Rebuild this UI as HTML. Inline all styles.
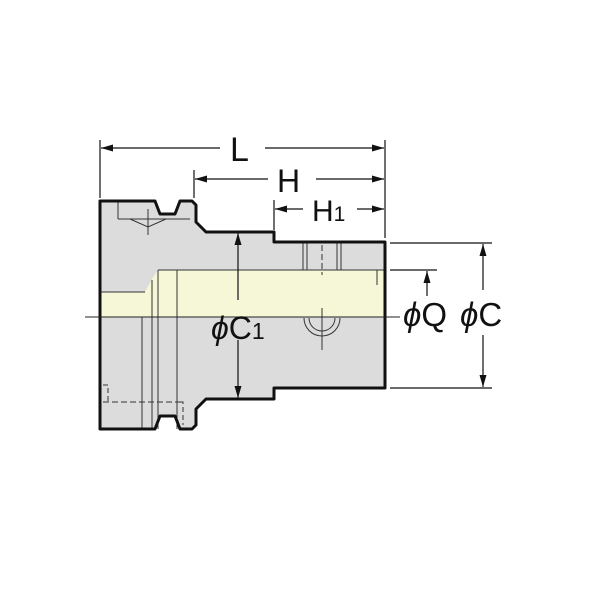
<!DOCTYPE html>
<html><head><meta charset="utf-8"><style>
html,body{margin:0;padding:0;background:#fff;width:600px;height:600px;overflow:hidden}
svg{display:block}
text{font-family:"Liberation Sans",sans-serif;fill:#111}
</style></head><body>
<svg width="600" height="600" viewBox="0 0 600 600" xmlns="http://www.w3.org/2000/svg">
<defs>
<marker id="a" viewBox="0 0 12 7" refX="12" refY="3.5" markerWidth="12" markerHeight="7" orient="auto-start-reverse" markerUnits="userSpaceOnUse"><path d="M0,0 L12,3.5 L0,7 z" fill="#111"/></marker>
</defs>
<path d="M100,201 L155,201 L160,214 L175,214 L180,201 L192,201 L196,205 L196,222 L206,232 L274,232 L274,242 L385,242 L385,388 L274,388 L274,399 L206,399 L196,409 L196,425 L192,429 L180,429 L175,416 L160,416 L155,429 L100,429 Z" fill="#dcdcdc"/>
<path d="M100,292 L145,292 L152,279 L158,270 L385,270 L385,317 L100,317 Z" fill="#f6f7d6"/>
<g stroke="#333" stroke-width="1" fill="none">
<line x1="142" y1="317" x2="142" y2="429"/>
<line x1="152" y1="280" x2="152" y2="429"/>
<line x1="158" y1="270" x2="158" y2="429"/>
<line x1="177" y1="270" x2="177" y2="429"/>
<line x1="100" y1="292" x2="145" y2="292"/>
<line x1="158" y1="270" x2="385" y2="270"/>
<line x1="118" y1="201" x2="118" y2="219"/><line x1="118" y1="219" x2="190" y2="219"/>
<path d="M130,219 L148,227 L166,219"/>
<line x1="148" y1="209" x2="148" y2="235"/>
<line x1="303" y1="242" x2="303" y2="270"/><line x1="307" y1="242" x2="307" y2="270"/>
<line x1="337" y1="242" x2="337" y2="270"/><line x1="341" y1="242" x2="341" y2="270"/>
<line x1="322" y1="245" x2="322" y2="275" stroke-dasharray="6,3"/>
<path d="M304,318 A18,18 0 0 0 340,318"/><path d="M309,318 A13,13 0 0 0 335,318"/>
<line x1="322" y1="308" x2="322" y2="350"/>
<line x1="377" y1="270" x2="377" y2="285"/>
<path d="M103,385 L108,385 L108,402" stroke-dasharray="5,3"/>
<line x1="103" y1="402" x2="180" y2="402" stroke-dasharray="6,3"/>
<path d="M180,402 L183,402 L183,425" stroke-dasharray="5,3"/>
</g>
<path d="M100,201 L155,201 L160,214 L175,214 L180,201 L192,201 L196,205 L196,222 L206,232 L274,232 L274,242 L385,242 L385,388 L274,388 L274,399 L206,399 L196,409 L196,425 L192,429 L180,429 L175,416 L160,416 L155,429 L100,429 Z" fill="none" stroke="#111" stroke-width="3" stroke-linejoin="round"/>
<line x1="85" y1="317" x2="400" y2="317" stroke="#222" stroke-width="1"/>
<g stroke="#111" stroke-width="1.2">
<line x1="100" y1="140" x2="100" y2="198"/>
<line x1="385" y1="140" x2="385" y2="238"/>
<line x1="194" y1="170" x2="194" y2="198"/>
<line x1="274" y1="200" x2="274" y2="230"/>
<line x1="101" y1="148" x2="220" y2="148" marker-start="url(#a)"/>
<line x1="265" y1="148" x2="384" y2="148" marker-end="url(#a)"/>
<line x1="195" y1="179" x2="268" y2="179" marker-start="url(#a)"/>
<line x1="316" y1="179" x2="384" y2="179" marker-end="url(#a)"/>
<line x1="275" y1="209" x2="303" y2="209" marker-start="url(#a)"/>
<line x1="357" y1="209" x2="384" y2="209" marker-end="url(#a)"/>
<line x1="390" y1="243" x2="492" y2="243"/>
<line x1="390" y1="388" x2="492" y2="388"/>
<line x1="390" y1="270" x2="437" y2="270"/>
<line x1="483" y1="244" x2="483" y2="290" marker-start="url(#a)"/>
<line x1="483" y1="335" x2="483" y2="387" marker-end="url(#a)"/>
<line x1="427" y1="271" x2="427" y2="296" marker-start="url(#a)"/>
<line x1="238" y1="233" x2="238" y2="300" marker-start="url(#a)"/>
<line x1="238" y1="340" x2="238" y2="398" marker-end="url(#a)"/>
</g>
<text x="230" y="161" font-size="34">L</text>
<text x="277" y="192" font-size="32">H</text>
<text x="312" y="221" font-size="30">H<tspan font-size="21">1</tspan></text>
<text x="211" y="339" font-size="32"><tspan font-style="italic">ϕ</tspan>C<tspan font-size="23">1</tspan></text>
<text x="403" y="326" font-size="33"><tspan font-style="italic">ϕ</tspan>Q</text>
<text x="460" y="326" font-size="33"><tspan font-style="italic">ϕ</tspan>C</text>
</svg>
</body></html>
